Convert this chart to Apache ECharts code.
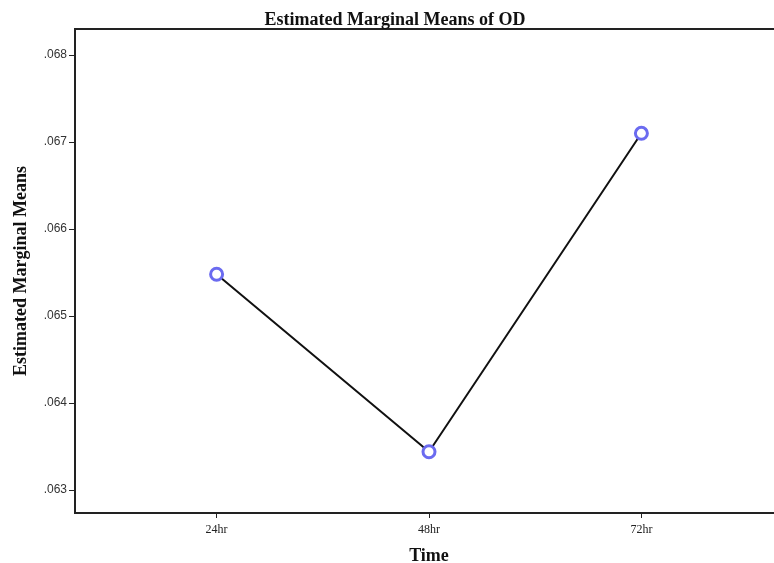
<!DOCTYPE html>
<html>
<head>
<meta charset="utf-8">
<script src="https://cdn.jsdelivr.net/npm/echarts@6/dist/echarts.min.js"></script>
<style>html,body{margin:0;padding:0;background:#fff;}#c{width:774px;height:563px;}</style>
</head>
<body>
<div id="c"></div>
<script>
const categories = ['24hr', '48hr', '72hr'];
const values = [0.06548, 0.06344, 0.06710];
const yTicks = [0.063, 0.064, 0.065, 0.066, 0.067, 0.068];

const chart = echarts.init(document.getElementById('c'));
const serif = '"Liberation Serif", "DejaVu Serif", serif';
const sans = '"Liberation Sans", Arial, sans-serif';
chart.setOption({
  animation: false,
  backgroundColor: '#fff',
  title: {
    text: 'Estimated Marginal Means of OD',
    left: 390, top: 6, textAlign: 'center',
    textStyle: { fontFamily: serif, fontSize: 18, fontWeight: 'bold', color: '#111' }
  },
  grid: { left: 75, right: -9, top: 29, bottom: 50, show: true, borderColor: '#222', borderWidth: 2, backgroundColor: 'transparent', containLabel: false, outerBoundsMode: 'none' },
  xAxis: {
    type: 'value', min: -2/3, max: 8/3,
    name: 'Time', nameLocation: 'middle', nameGap: 34,
    nameTextStyle: { fontFamily: serif, fontSize: 18, fontWeight: 'bold', color: '#111' },
    axisLine: { show: true, onZero: false, lineStyle: { color: '#222', width: 2 } },
    axisTick: { show: true, length: 5, customValues: [0, 1, 2], lineStyle: { color: '#222', width: 1 } },
    axisLabel: { customValues: [0, 1, 2], formatter: v => categories[Math.round(v)] || '', fontFamily: serif, fontSize: 12, color: '#222', margin: 11 },
    splitLine: { show: false }
  },
  yAxis: {
    type: 'value', min: 0.062736, max: 0.068299,
    name: 'Estimated Marginal Means', nameLocation: 'middle', nameGap: 45,
    nameTextStyle: { fontFamily: serif, fontSize: 18, fontWeight: 'bold', color: '#111' },
    axisLine: { show: true, onZero: false, lineStyle: { color: '#222', width: 2 } },
    axisTick: { show: true, length: 6, customValues: yTicks, lineStyle: { color: '#222', width: 1 } },
    axisLabel: { customValues: yTicks, formatter: v => v.toFixed(3).replace(/^0/, ''), fontFamily: sans, fontSize: 12, color: '#333', margin: 8 },
    splitLine: { show: false }
  },
  series: [{
    type: 'line',
    data: values.map((v, i) => [i, v]),
    symbol: 'circle', symbolSize: 12,
    itemStyle: { color: '#fff', borderColor: '#6b6bf0', borderWidth: 3 },
    lineStyle: { color: '#111', width: 2 }
  }]
});
</script>
</body>
</html>
